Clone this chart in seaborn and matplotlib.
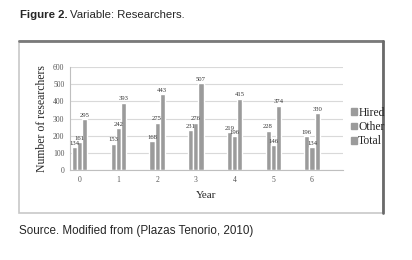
import pandas as pd
import matplotlib
matplotlib.use("Agg")
import matplotlib.pyplot as plt
import seaborn as sns
from matplotlib.patches import Rectangle

# data
years = ["0", "1", "2", "3", "4", "5", "6"]
hired = [134, 153, 168, 231, 219, 228, 196]
other = [161, 242, 275, 276, 196, 146, 134]
total = [295, 393, 443, 507, 415, 374, 330]
series = ["Hired", "Other", "Total"]

df = pd.DataFrame({
    "Year": years * 3,
    "value": hired + other + total,
    "series": [s for s in series for _ in years],
})

sns.set_style("white")
plt.rcParams["font.family"] = ["Liberation Serif", "DejaVu Serif"]

bar_col = "#9b9b9b"
sans = ["Liberation Sans", "DejaVu Sans"]
fig = plt.figure(figsize=(4.12, 2.6), dpi=100)

# frame around the chart
fig.patches.append(Rectangle((19 / 412, 1 - 213 / 260), 364 / 412, 172 / 260,
                             transform=fig.transFigure, fill=False,
                             edgecolor="#c8c8c8", linewidth=1.2))
fig.add_artist(plt.Line2D([19 / 412, 383 / 412], [1 - 41 / 260] * 2, color="#7a7a7a", lw=2))
fig.add_artist(plt.Line2D([383 / 412] * 2, [1 - 41 / 260, 1 - 213 / 260], color="#6a6a6a", lw=2))

ax = fig.add_axes([70 / 412, 1 - 170 / 260, 273 / 412, 103 / 260])
sns.barplot(data=df, x="Year", y="value", hue="series",
            palette=[bar_col] * 3, width=0.4, saturation=1,
            dodge=True, ax=ax, legend=False)

for c in ax.containers:
    ax.bar_label(c, fontsize=4.8, padding=1, color="#333333")

ax.set_xlim(-0.25, 6.8)
ax.set_ylim(0, 600)
ax.set_yticks(range(0, 601, 100))
ax.yaxis.grid(True, color="#d9d9d9", lw=0.8)
ax.set_axisbelow(True)
for s in ["top", "right"]:
    ax.spines[s].set_visible(False)
ax.spines["left"].set_color("#bfbfbf")
ax.spines["bottom"].set_color("#bfbfbf")
ax.tick_params(axis="both", labelsize=5.5, colors="#555555", length=2, width=0.6, pad=2)
ax.tick_params(axis="x", length=0, pad=4)
ax.set_xlabel("Year", fontsize=8, labelpad=5)
ax.set_ylabel("Number of researchers", fontsize=8.5, labelpad=4)

handles = [Rectangle((0, 0), 1, 1, color=bar_col) for _ in series]
fig.legend(handles, series, loc="center left", bbox_to_anchor=(346 / 412, 1 - 127 / 260),
           frameon=False, fontsize=8.4, handlelength=0.5, handleheight=0.5,
           handletextpad=0.15, labelspacing=0.2, borderaxespad=0)

t1 = fig.text(20 / 412, 1 - 15 / 260, "Figure 2.", fontsize=8.2, fontweight="bold",
              family=sans, va="center")
fig.canvas.draw()
bb = t1.get_window_extent()
fig.text((bb.x1 + 2) / 412, 1 - 15 / 260, "Variable: Researchers.", fontsize=8.2,
         family=sans, va="center")
fig.text(19 / 412, 1 - 231 / 260, "Source. Modified from (Plazas Tenorio, 2010)", fontsize=8.4,
         family=sans, va="center")

fig.savefig("out.png", dpi=100, facecolor="white")
